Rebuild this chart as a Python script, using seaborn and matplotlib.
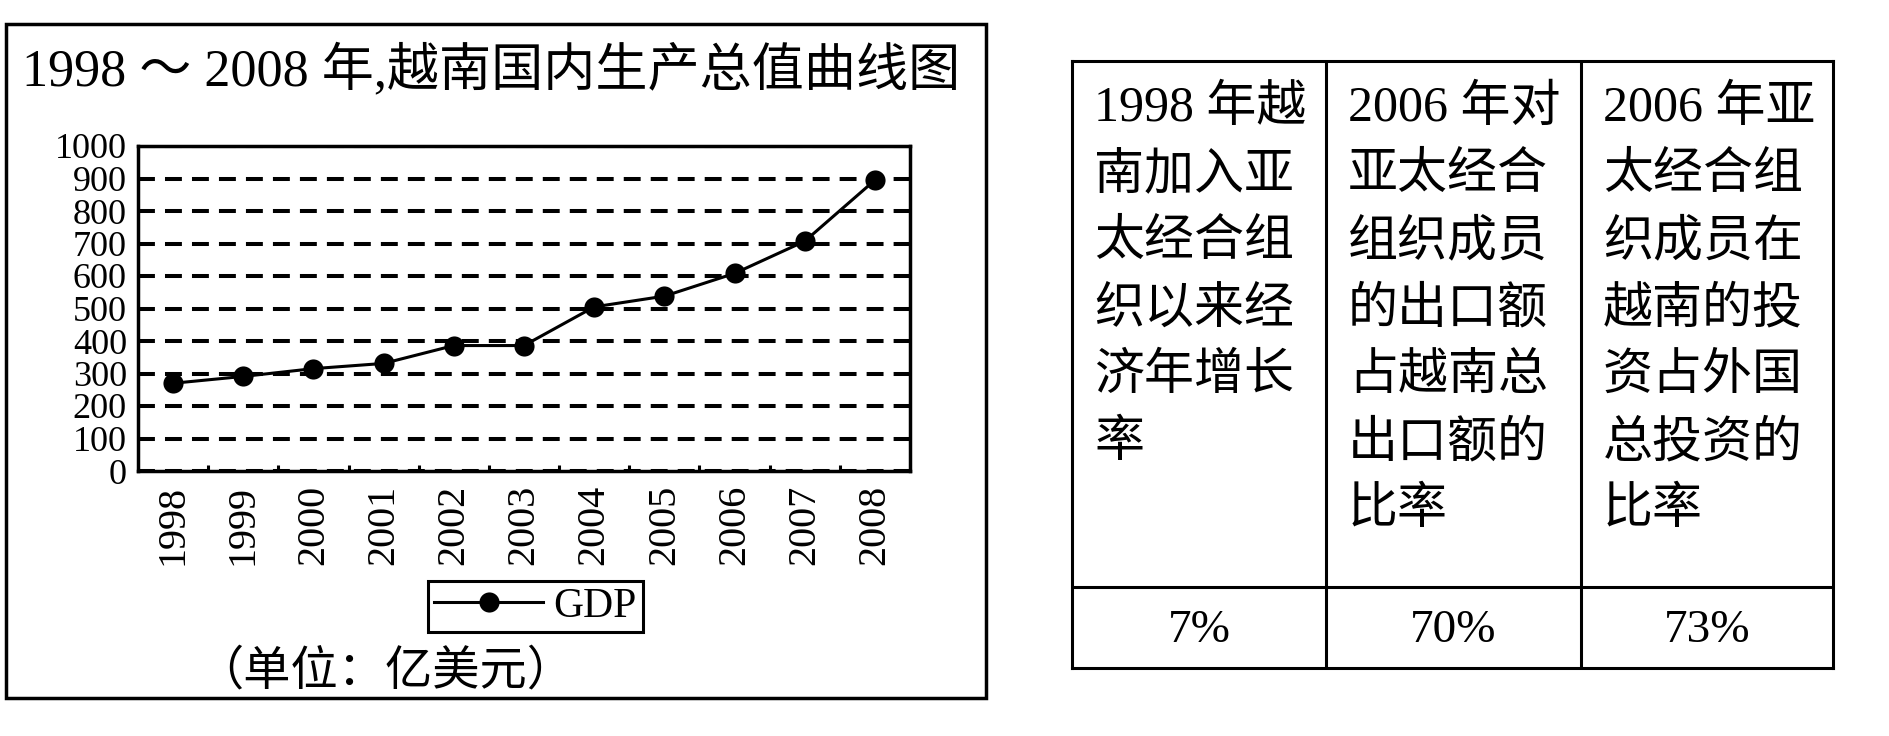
import numpy as np
import pandas as pd
import seaborn as sns
import matplotlib.pyplot as plt
from matplotlib.patches import Rectangle

# data
years = [1998, 1999, 2000, 2001, 2002, 2003, 2004, 2005, 2006, 2007, 2008]
gdp = [270, 291, 315, 331, 386, 386, 505, 538, 608, 707, 895]
y_ticks = list(range(0, 1001, 100))

title = "1998 ～ 2008 年,越南国内生产总值曲线图"
unit_note = "（单位：亿美元）"
series_name = "GDP"

table_headers = [
    ["1998 年越", "南加入亚", "太经合组", "织以来经", "济年增长", "率"],
    ["2006 年对", "亚太经合", "组织成员", "的出口额", "占越南总", "出口额的", "比率"],
    ["2006 年亚", "太经合组", "织成员在", "越南的投", "资占外国", "总投资的", "比率"],
]
table_values = ["7%", "70%", "73%"]

plt.rcParams["font.family"] = ["Liberation Serif", "Noto Sans CJK SC"]
plt.rcParams["text.color"] = "black"

W, H = 1890, 736
fig = plt.figure(figsize=(W / 100, H / 100), dpi=100)


def fx(px):
    return px / W


def fy(py):
    return 1 - py / H


# frame round the chart
fig.add_artist(Rectangle((fx(6), fy(698)), fx(986) - fx(6), fy(24) - fy(698),
                         transform=fig.transFigure, fill=False, lw=2.5, ec="black"))
fig.text(fx(22), fy(70), title, fontsize=37.5, va="center", ha="left")

# line chart
ax = fig.add_axes([fx(138), fy(471), fx(910) - fx(138), fy(146) - fy(471)])
df = pd.DataFrame({"year": years, "gdp": gdp})
sns.lineplot(data=df, x="year", y="gdp", ax=ax, color="black", marker="o",
             markersize=14.5, markeredgewidth=0, linewidth=2.2, label=series_name)

ax.set_xlim(years[0] - 0.5, years[-1] + 0.5)
ax.set_ylim(0, 1000)
ax.set_xticks(years)
ax.set_xticklabels([str(y) for y in years], rotation=90, fontsize=29)
ax.set_xticks(np.arange(years[0] + 0.5, years[-1], 1), minor=True)
ax.set_yticks(y_ticks)
ax.set_yticklabels([str(v) for v in y_ticks], fontsize=26)
ax.tick_params(axis="x", which="major", length=0, pad=10, colors="black")
ax.tick_params(axis="x", which="minor", direction="in", length=4.3, width=2.2)
ax.tick_params(axis="y", length=0, pad=8, colors="black")
ax.grid(axis="y", color="black", linewidth=2.9, linestyle=(0, (4.2, 2.5)))
ax.grid(axis="x", visible=False)
ax.set_xlabel("")
ax.set_ylabel("")
for s in ax.spines.values():
    s.set_linewidth(2.5)
    s.set_color("black")

leg = ax.legend(loc="center", bbox_to_anchor=(fx(535.5), fy(606.5)),
                bbox_transform=fig.transFigure, fontsize=30, frameon=True,
                fancybox=False, edgecolor="black", framealpha=1, borderpad=0.15,
                handlelength=2.6, handletextpad=0.25, borderaxespad=0)
leg.get_frame().set_linewidth(2.2)

fig.text(fx(196), fy(672), unit_note, fontsize=34, va="center", ha="left")

# table on the right
tax = fig.add_axes([fx(1072), fy(668), fx(1833) - fx(1072), fy(61) - fy(668)])
tax.set_xlim(0, 761)
tax.set_ylim(607, 0)
tax.set_xticks([])
tax.set_yticks([])
for s in tax.spines.values():
    s.set_linewidth(2.2)
    s.set_color("black")
col_edges = [0, 254, 509, 761]
for e in col_edges[1:-1]:
    tax.axvline(e, color="black", lw=2.2)
tax.axhline(526, color="black", lw=2.2)

for j, lines in enumerate(table_headers):
    for i, line in enumerate(lines):
        tax.text(col_edges[j] + 22, 48 + i * 67, line, fontsize=36, va="center", ha="left")
for j, val in enumerate(table_values):
    tax.text((col_edges[j] + col_edges[j + 1]) / 2, 570, val, fontsize=34,
             va="center", ha="center")

fig.savefig("out.png", dpi=100)
